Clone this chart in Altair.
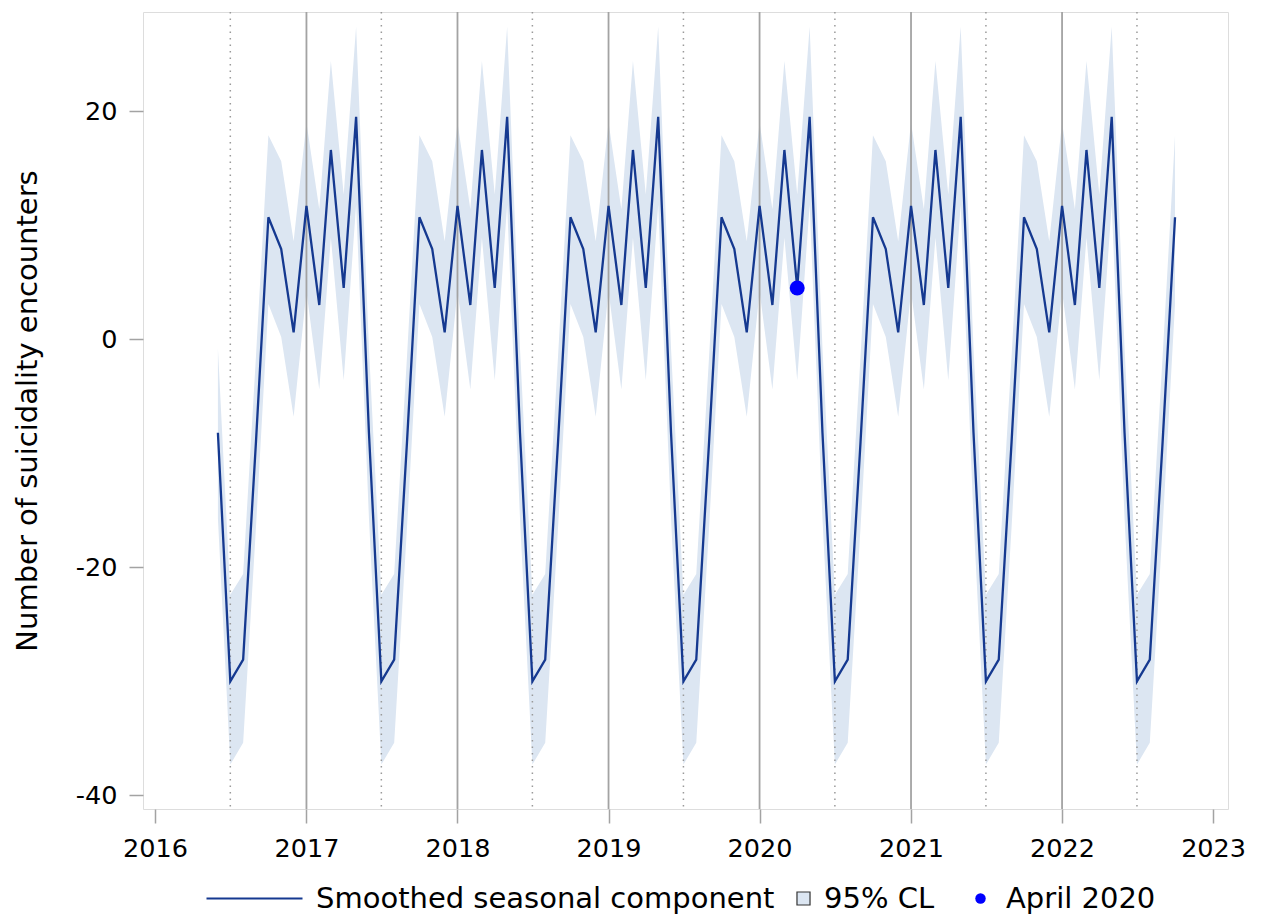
import altair as alt
import pandas as pd

# Monthly dates, June 2016 .. October 2022
months = pd.date_range("2016-06-01", "2022-10-01", freq="MS").strftime("%Y-%m-%d").tolist()

# Smoothed seasonal component, one row per calendar year
seasonal = (
    [-8.2, -30.0, -28.1, -9.0, 10.7, 7.9, 0.6]                                   # 2016 Jun-Dec
    + [11.7, 3.0, 16.6, 4.5, 19.5, -8.2, -30.0, -28.1, -9.0, 10.7, 7.9, 0.6]     # 2017
    + [11.7, 3.0, 16.6, 4.5, 19.5, -8.2, -30.0, -28.1, -9.0, 10.7, 7.9, 0.6]     # 2018
    + [11.7, 3.0, 16.6, 4.5, 19.5, -8.2, -30.0, -28.1, -9.0, 10.7, 7.9, 0.6]     # 2019
    + [11.7, 3.0, 16.6, 4.5, 19.5, -8.2, -30.0, -28.1, -9.0, 10.7, 7.9, 0.6]     # 2020
    + [11.7, 3.0, 16.6, 4.5, 19.5, -8.2, -30.0, -28.1, -9.0, 10.7, 7.9, 0.6]     # 2021
    + [11.7, 3.0, 16.6, 4.5, 19.5, -8.2, -30.0, -28.1, -9.0, 10.7]               # 2022 Jan-Oct
)
lower = (
    [-15.7, -37.3, -35.4, -16.5, 3.1, 0.2, -6.8]
    + [4.2, -4.4, 8.9, -3.6, 11.8, -15.7, -37.3, -35.4, -16.5, 3.1, 0.2, -6.8]
    + [4.2, -4.4, 8.9, -3.6, 11.8, -15.7, -37.3, -35.4, -16.5, 3.1, 0.2, -6.8]
    + [4.2, -4.4, 8.9, -3.6, 11.8, -15.7, -37.3, -35.4, -16.5, 3.1, 0.2, -6.8]
    + [4.2, -4.4, 8.9, -3.6, 11.8, -15.7, -37.3, -35.4, -16.5, 3.1, 0.2, -6.8]
    + [4.2, -4.4, 8.9, -3.6, 11.8, -15.7, -37.3, -35.4, -16.5, 3.1, 0.2, -6.8]
    + [4.2, -4.4, 8.9, -3.6, 11.8, -15.7, -37.3, -35.4, -16.5, 3.1]
)
upper = (
    [-0.8, -22.4, -20.6, -1.5, 17.9, 15.6, 8.6]
    + [19.0, 11.4, 24.4, 12.7, 27.4, -0.8, -22.4, -20.6, -1.5, 17.9, 15.6, 8.6]
    + [19.0, 11.4, 24.4, 12.7, 27.4, -0.8, -22.4, -20.6, -1.5, 17.9, 15.6, 8.6]
    + [19.0, 11.4, 24.4, 12.7, 27.4, -0.8, -22.4, -20.6, -1.5, 17.9, 15.6, 8.6]
    + [19.0, 11.4, 24.4, 12.7, 27.4, -0.8, -22.4, -20.6, -1.5, 17.9, 15.6, 8.6]
    + [19.0, 11.4, 24.4, 12.7, 27.4, -0.8, -22.4, -20.6, -1.5, 17.9, 15.6, 8.6]
    + [19.0, 11.4, 24.4, 12.7, 27.4, -0.8, -22.4, -20.6, -1.5, 17.9]
)

highlight_dates = ["2020-04-01"]
highlight_values = [4.5]

year_lines = ["2017-01-01", "2018-01-01", "2019-01-01", "2020-01-01", "2021-01-01", "2022-01-01"]
midyear_lines = ["2016-07-01", "2017-07-01", "2018-07-01", "2019-07-01", "2020-07-01",
                 "2021-07-01", "2022-07-01"]
x_tick_years = [2016, 2017, 2018, 2019, 2020, 2021, 2022, 2023]
y_ticks = [-40, -20, 0, 20]

line_label = "Smoothed seasonal component"
band_label = "95% CL"
point_label = "April 2020"

FONT = "DejaVu Sans"
LINE_COLOR = "#153990"
BAND_COLOR = "#dce6f2"
POINT_COLOR = "#0000ff"
GRID_COLOR = "#a3a3a3"

df = pd.DataFrame({"date": months, "value": seasonal, "lower": lower, "upper": upper})
df["series"] = line_label
df["band"] = band_label
pts = pd.DataFrame({"date": highlight_dates, "value": highlight_values, "pt": point_label})
years_df = pd.DataFrame({"date": year_lines})
mid_df = pd.DataFrame({"date": midyear_lines})

x_scale = alt.Scale(domain=[alt.DateTime(year=2015, month=12, date=3),
                            alt.DateTime(year=2023, month=2, date=6)])
y_scale = alt.Scale(domain=[-41.2, 28.7], nice=False, zero=False)

x_axis = alt.Axis(values=[alt.DateTime(year=y, month=1, date=1) for y in x_tick_years],
                  format="%Y", title=None, grid=False, domain=False,
                  tickSize=14, tickColor=GRID_COLOR, tickWidth=1.5,
                  labelFontSize=25.5, labelPadding=13, labelColor="black",
                  labelFont=FONT, labelFlush=False, labelOverlap=False)
y_axis = alt.Axis(values=y_ticks, title="Number of suicidality encounters",
                  labelExpr="datum.value + ''",
                  grid=False, domain=False, tickSize=14, tickColor=GRID_COLOR, tickWidth=1.5,
                  labelFontSize=25.5, labelPadding=12, labelColor="black", labelFont=FONT,
                  titleFontSize=29, titleFont=FONT, titleFontWeight="normal",
                  titleColor="black", titlePadding=33)

X = alt.X("date:T", scale=x_scale, axis=x_axis)

band = alt.Chart(df).mark_area(color=BAND_COLOR, opacity=1).encode(
    x=X,
    y=alt.Y("lower:Q", scale=y_scale, axis=y_axis),
    y2="upper:Q",
)

year_rules = alt.Chart(years_df).mark_rule(color=GRID_COLOR, strokeWidth=1.8).encode(
    x=alt.X("date:T", scale=x_scale)
)
mid_rules = alt.Chart(mid_df).mark_rule(color="#9a9a9a", strokeWidth=1.5,
                                        strokeDash=[1.5, 5]).encode(
    x=alt.X("date:T", scale=x_scale)
)

LEGEND_Y = 872
legend_common = dict(orient="none", direction="horizontal", title=None,
                     labelFontSize=29, labelFont=FONT, labelColor="black",
                     labelLimit=1000, legendY=LEGEND_Y)

# long horizontal line symbol: path drawn from the slot's left edge, ~96px long
line_symbol = "M-1,0H7"

line = alt.Chart(df).mark_line(strokeWidth=2.3).encode(
    x=alt.X("date:T", scale=x_scale),
    y=alt.Y("value:Q", scale=y_scale),
    color=alt.Color("series:N", scale=alt.Scale(domain=[line_label], range=[LINE_COLOR]),
                    legend=alt.Legend(symbolType=line_symbol, symbolSize=576,
                                      symbolStrokeWidth=2, labelOffset=83,
                                      legendX=61, **legend_common)),
)

band_legend = alt.Chart(df).transform_filter("false").mark_area(
    stroke="#333333", strokeWidth=1.2, opacity=1
).encode(
    x=alt.X("date:T", scale=x_scale),
    y=alt.Y("lower:Q", scale=y_scale),
    y2="upper:Q",
    fill=alt.Fill("band:N", scale=alt.Scale(domain=[band_label], range=[BAND_COLOR]),
                  legend=alt.Legend(symbolType="square", symbolSize=170,
                                    symbolStrokeColor="#333333", symbolStrokeWidth=1.2,
                                    labelOffset=6, legendX=646, **legend_common)),
)

point = alt.Chart(pts).mark_point(filled=True, color=POINT_COLOR, size=225, opacity=1).encode(
    x=alt.X("date:T", scale=x_scale),
    y=alt.Y("value:Q", scale=y_scale),
    shape=alt.Shape("pt:N", scale=alt.Scale(domain=[point_label], range=["circle"]),
                    legend=alt.Legend(symbolSize=110, symbolFillColor=POINT_COLOR,
                                      symbolStrokeColor=POINT_COLOR, labelOffset=11,
                                      legendX=823, **legend_common)),
)

chart = alt.layer(band, year_rules, mid_rules, line, band_legend, point).properties(
    width=1085, height=797,
    autosize=alt.AutoSizeParams(type="none"),
    padding={"left": 135, "top": 4, "right": 25, "bottom": 105},
).configure_view(
    stroke=GRID_COLOR, strokeWidth=1.8
).configure(
    font=FONT
)

chart.save("out.html", embed_options={"renderer": "svg", "actions": False})
